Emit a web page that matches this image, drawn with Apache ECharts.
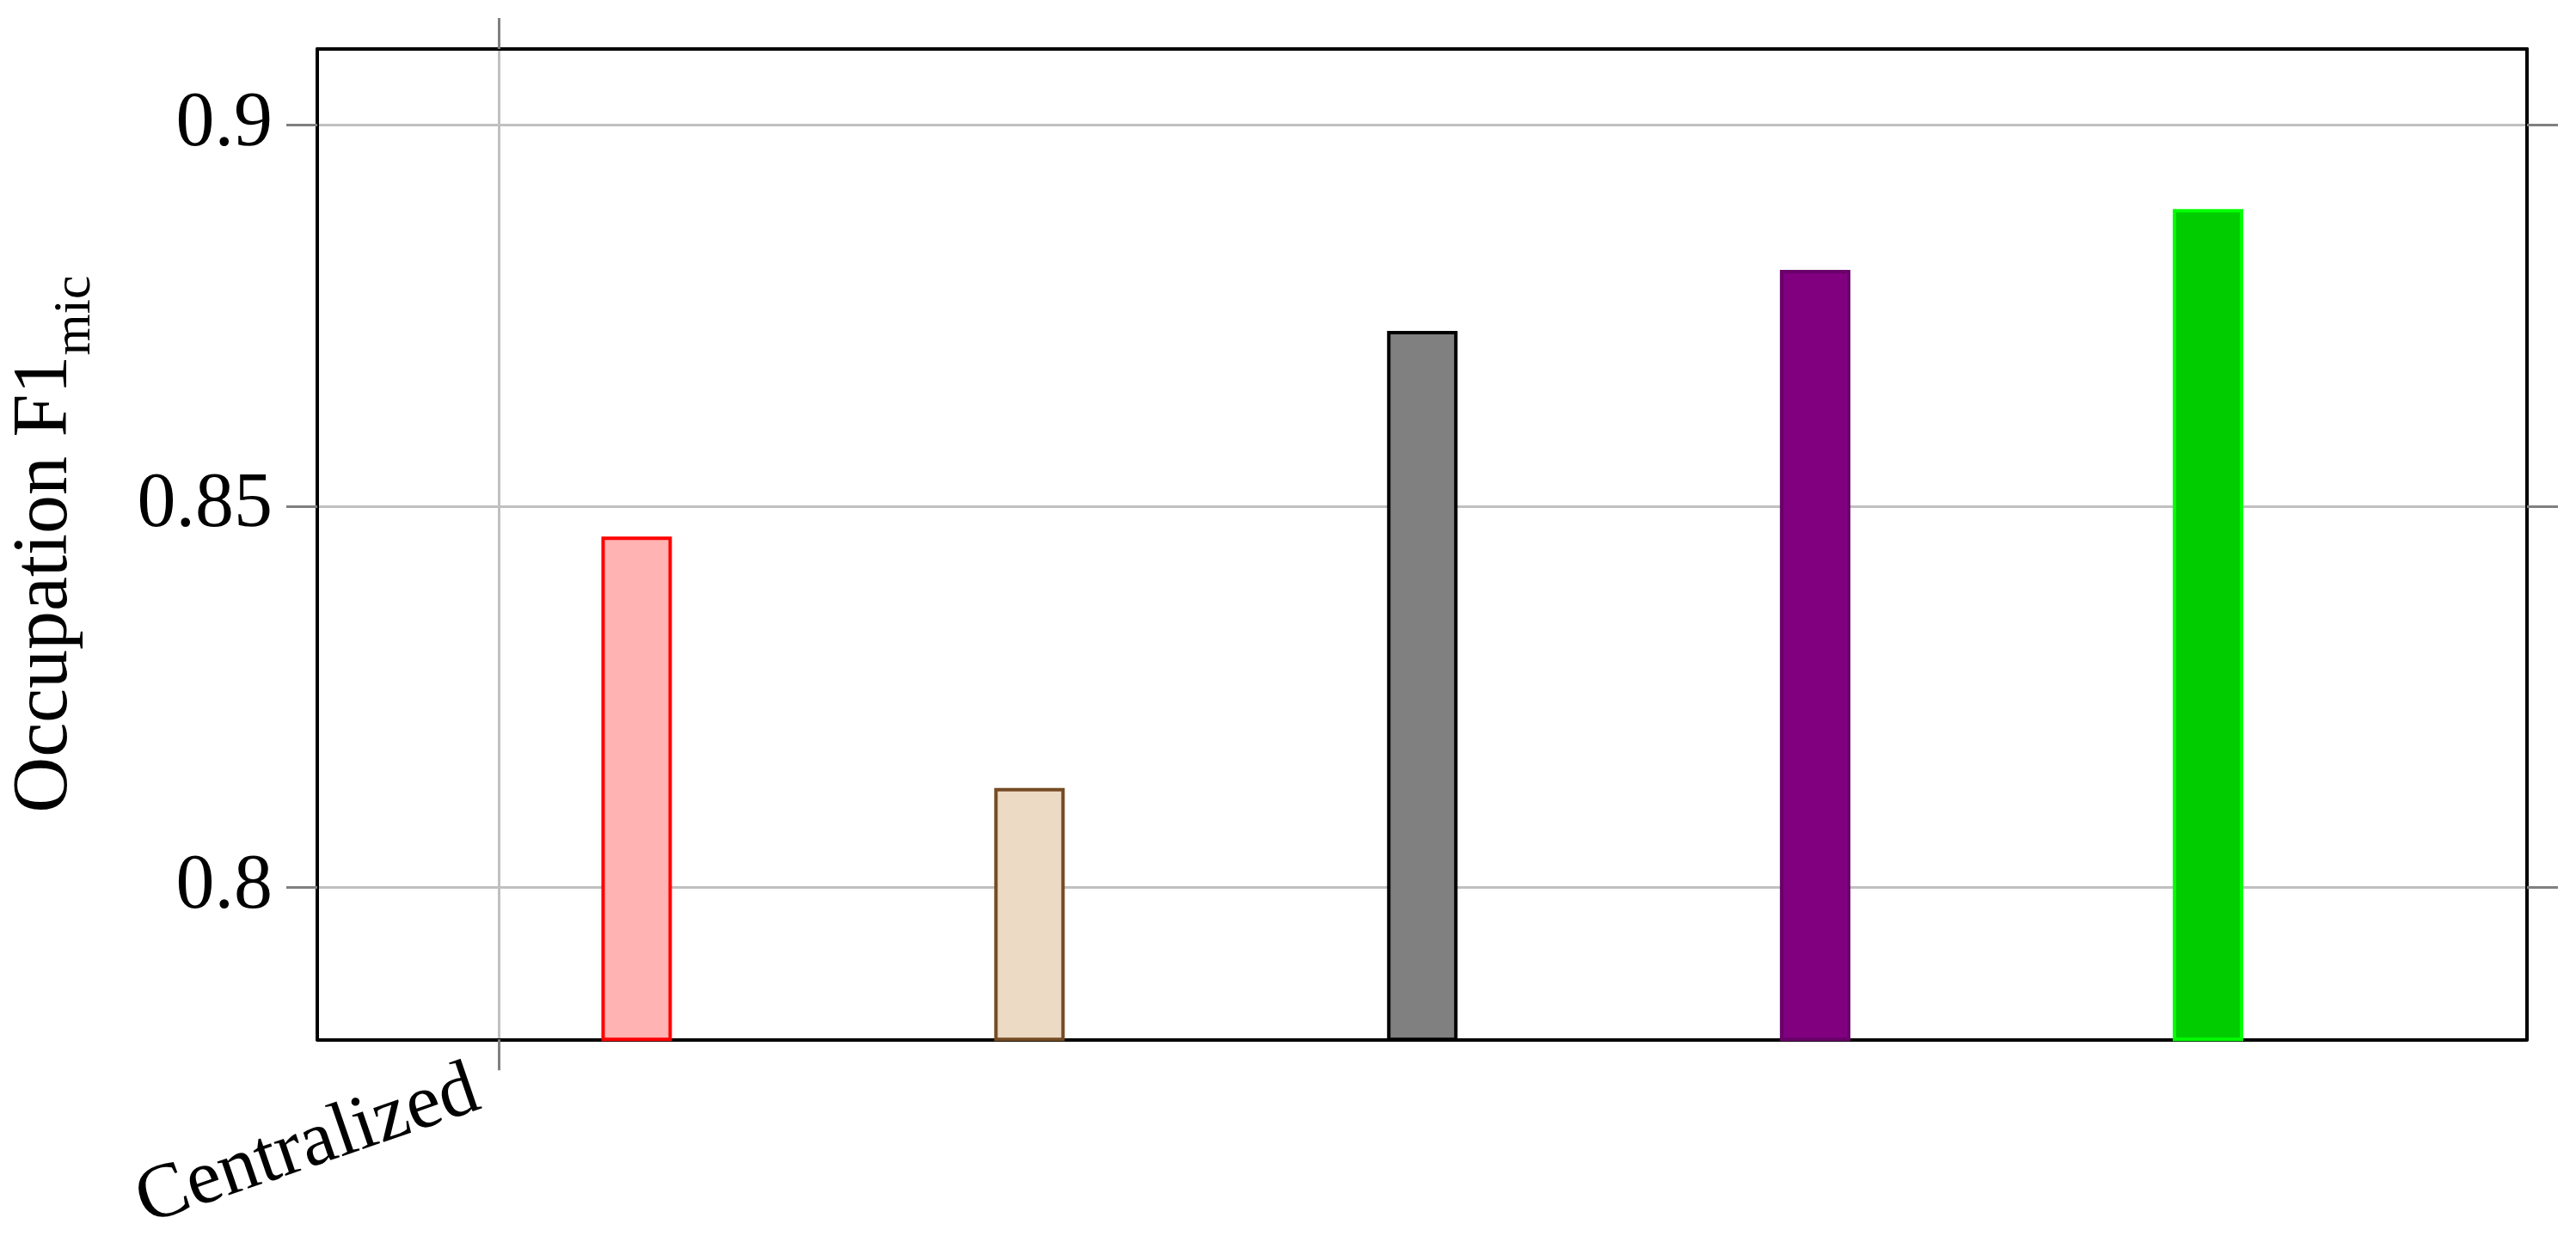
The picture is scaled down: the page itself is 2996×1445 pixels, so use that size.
<!DOCTYPE html>
<html>
<head>
<meta charset="utf-8">
<script src="https://cdn.jsdelivr.net/npm/echarts@6/dist/echarts.min.js"></script>
<style>
  html, body { margin: 0; padding: 0; background: #fff; }
  #chart { width: 2996px; height: 1445px; }
</style>
</head>
<body>
<div id="chart"></div>
<script>
// x categories (only one labelled tick) and their positions on the value axis
const categories = ['Centralized']
const categoryPos = [0]

// bars: position on the x axis and Occupation F1 micro value
const barPos = [0.35, 1.35, 2.35, 3.35, 4.35]
const barValues = [0.846, 0.813, 0.873, 0.881, 0.889]

// y tick labels
const yTicks = [0.8, 0.85, 0.9]
const yTickLabels = ['0.8', '0.85', '0.9']

const fills = ['#ffb3b3', '#ecdac5', '#808080', '#800080', '#00cc00']
const borders = ['#ff0000', '#754c24', '#000000', '#6a006a', '#00ff00']

const font = 'Liberation Serif'
const fontSize = 90
const tickStyle = { color: '#808080', width: 3 }
const frame = { show: true, onZero: false, lineStyle: { color: '#000', width: 4 } }
const gridLine = { show: true, lineStyle: { color: '#c0c0c0', width: 3 } }

const chart = echarts.init(document.getElementById('chart'))

chart.setOption({
  animation: false,
  grid: { left: 363, right: 57, top: 57, bottom: 230 },
  xAxis: [{
    type: 'value',
    min: -0.463,
    max: 5.162,
    axisLine: frame,
    axisTick: { show: true, inside: false, length: 36, lineStyle: tickStyle, customValues: categoryPos },
    splitLine: gridLine,
    axisLabel: {
      customValues: categoryPos,
      formatter: v => categories[categoryPos.indexOf(v)],
      rotate: 19,
      margin: 48,
      padding: [0, 28, 0, 0],
      fontSize: fontSize,
      fontFamily: font,
      color: '#000'
    }
  }, {
    type: 'value',
    position: 'top',
    min: -0.463,
    max: 5.162,
    axisLine: frame,
    axisTick: { show: true, inside: false, length: 36, lineStyle: tickStyle, customValues: categoryPos },
    splitLine: { show: false },
    axisLabel: { show: false }
  }],
  yAxis: [{
    type: 'value',
    min: 0.78,
    max: 0.91,
    name: 'Occupation F1{sub|mic}',
    nameLocation: 'middle',
    nameGap: 250,
    nameRotate: 90,
    nameTextStyle: {
      fontSize: fontSize,
      fontFamily: font,
      color: '#000',
      rich: {
        sub: { fontSize: 62, fontFamily: font, color: '#000', lineHeight: 132, verticalAlign: 'bottom' }
      }
    },
    axisLine: frame,
    axisTick: { show: true, inside: false, length: 36, lineStyle: tickStyle, customValues: yTicks },
    splitLine: gridLine,
    axisLabel: {
      customValues: yTicks,
      formatter: v => yTickLabels[yTicks.indexOf(v)],
      margin: 52,
      fontSize: fontSize,
      fontFamily: font,
      color: '#000'
    }
  }, {
    type: 'value',
    position: 'right',
    min: 0.78,
    max: 0.91,
    axisLine: frame,
    axisTick: { show: true, inside: false, length: 36, lineStyle: tickStyle, customValues: yTicks },
    splitLine: { show: false },
    axisLabel: { show: false }
  }],
  series: [{
    type: 'bar',
    xAxisIndex: 0,
    yAxisIndex: 0,
    barWidth: 82,
    data: barValues.map((v, i) => ({
      value: [barPos[i], v],
      itemStyle: { color: fills[i], borderColor: borders[i], borderWidth: 4 }
    }))
  }]
})
</script>
</body>
</html>
